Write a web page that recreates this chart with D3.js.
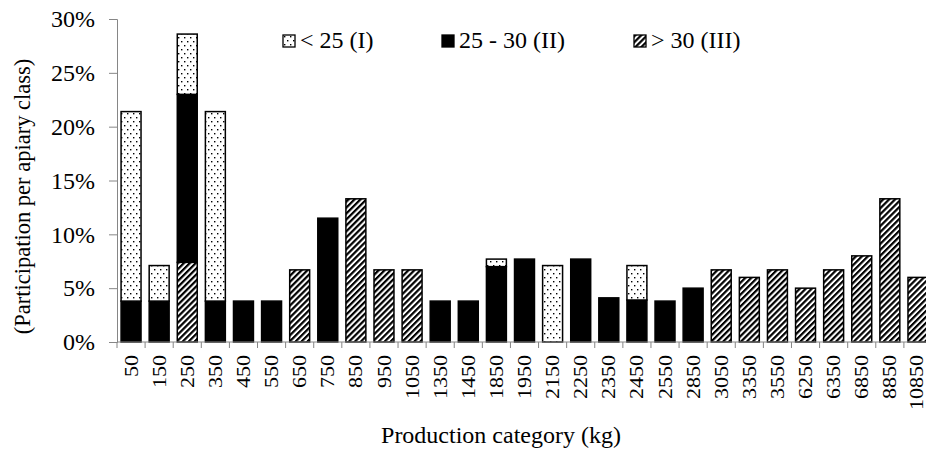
<!DOCTYPE html>
<html>
<head>
<meta charset="utf-8">
<script src="https://cdn.jsdelivr.net/npm/d3@7"></script>
<style>
  body { margin: 0; background: #fff; }
  .ytick text { font-family: "Liberation Serif", serif; font-size: 24px; fill: #000; }
</style>
</head>
<body>
<div id="vis"></div>
<script>
// production categories (kg)
const categories = ['50','150','250','350','450','550','650','750','850','950','1050','1350','1450','1850','1950',
  '2150','2250','2350','2450','2550','2850','3050','3350','3550','6250','6350','6850','8850','10850']

// participation per apiary class, in %
const classI   = [17.6, 3.3, 5.6, 17.6, 0, 0, 0, 0, 0, 0, 0, 0, 0, 0.7, 0, 7.1, 0, 0, 3.2, 0, 0, 0, 0, 0, 0, 0, 0, 0, 0]
const classII  = [3.8, 3.8, 15.6, 3.8, 3.8, 3.8, 0, 11.5, 0, 0, 0, 3.8, 3.8, 7.0, 7.7, 0, 7.7, 4.1, 3.9, 3.8, 5.0, 0, 0, 0, 0, 0, 0, 0, 0]
const classIII = [0, 0, 7.4, 0, 0, 0, 6.7, 0, 13.3, 6.7, 6.7, 0, 0, 0, 0, 0, 0, 0, 0, 0, 0, 6.7, 6.0, 6.7, 5.0, 6.7, 8.0, 13.3, 6.0]

const seriesKeys = ['III', 'II', 'I']   // stacking order, bottom to top
const legendLabels = {I: '< 25 (I)', II: '25 - 30 (II)', III: '> 30 (III)'}
const yTicks = [0, 5, 10, 15, 20, 25, 30]

const width = 926, height = 450
const margin = {left: 117, top: 19, right: -6, bottom: 108}
const serif = 'Liberation Serif'

const svg = d3.select('#vis').append('svg')
  .attr('width', width)
  .attr('height', height)
  .attr('font-family', serif)

// fill patterns
const defs = svg.append('defs')
const dots = defs.append('pattern')
  .attr('id', 'dots').attr('patternUnits', 'userSpaceOnUse')
  .attr('width', 6).attr('height', 8)
dots.append('rect').attr('width', 6).attr('height', 8).attr('fill', '#fff')
dots.append('rect').attr('x', 1).attr('y', 1).attr('width', 1.4).attr('height', 1.4).attr('fill', '#000')
dots.append('rect').attr('x', 4).attr('y', 5).attr('width', 1.4).attr('height', 1.4).attr('fill', '#000')

const hatch = defs.append('pattern')
  .attr('id', 'hatch').attr('patternUnits', 'userSpaceOnUse')
  .attr('width', 4.2).attr('height', 4.2)
  .attr('patternTransform', 'rotate(45)')
hatch.append('rect').attr('width', 4.2).attr('height', 4.2).attr('fill', '#fff')
hatch.append('rect').attr('width', 2.2).attr('height', 4.2).attr('fill', '#000')

const fills = {I: 'url(#dots)', II: '#000', III: 'url(#hatch)'}

const data = categories.map((c, i) => ({cat: c, I: classI[i], II: classII[i], III: classIII[i]}))
const stacked = d3.stack().keys(seriesKeys)(data)

const x = d3.scaleBand(categories, [margin.left, width - margin.right])
  .paddingInner(0.29).paddingOuter(0.145)
const y = d3.scaleLinear([0, 30], [height - margin.bottom, margin.top])

// bars
svg.append('g').selectAll('g')
  .data(stacked)
  .join('g')
    .attr('fill', d => fills[d.key])
  .selectAll('rect')
  .data(d => d.filter(s => s[1] - s[0] > 0))
  .join('rect')
    .attr('x', d => x(d.data.cat))
    .attr('y', d => y(d[1]))
    .attr('width', x.bandwidth())
    .attr('height', d => y(d[0]) - y(d[1]))
    .attr('stroke', '#000')
    .attr('stroke-width', 1.5)

// y axis
const yAxis = d3.axisLeft(y).tickValues(yTicks).tickSize(8).tickPadding(14)
  .tickFormat(d => d + '%')
svg.append('g')
  .attr('class', 'ytick')
  .attr('transform', `translate(${margin.left},0)`)
  .call(yAxis)
  .call(g => g.selectAll('.domain, .tick line').attr('stroke', '#868686'))
  .call(g => g.selectAll('.tick text')
    .style('font-family', '"Liberation Serif", serif')
    .style('font-size', '24px'))

// x axis: line, boundary ticks, rotated labels
const xg = svg.append('g')
xg.append('line')
  .attr('x1', margin.left).attr('x2', width)
  .attr('y1', y(0)).attr('y2', y(0))
  .attr('stroke', '#868686')
xg.selectAll('.bound')
  .data(categories)
  .join('line')
    .attr('class', 'bound')
    .attr('x1', d => x(d) - x.step() * x.paddingInner() / 2)
    .attr('x2', d => x(d) - x.step() * x.paddingInner() / 2)
    .attr('y1', y(0)).attr('y2', y(0) + 6)
    .attr('stroke', '#868686')
xg.selectAll('.lab')
  .data(categories)
  .join('text')
    .attr('class', 'lab')
    .attr('transform', d => `translate(${Math.min(x(d) + x.bandwidth() / 2, width - 10)},${y(0) + 13}) rotate(-90) scale(1,0.88)`)
    .attr('dy', '0.34em')
    .attr('text-anchor', 'end')
    .attr('font-size', 22)
    .text(d => d)

// axis titles
svg.append('text')
  .attr('transform', `translate(22,${(y(0) + y(30)) / 2 + 16}) rotate(-90)`)
  .attr('dy', '0.34em')
  .attr('text-anchor', 'middle')
  .attr('font-size', 22.5)
  .text('(Participation per apiary class)')

svg.append('text')
  .attr('x', 501).attr('y', 443)
  .attr('text-anchor', 'middle')
  .attr('font-size', 24)
  .text('Production category (kg)')

// legend
const legendX = {I: 283, II: 442, III: 634}
const legend = svg.append('g').selectAll('g')
  .data(['I', 'II', 'III'])
  .join('g')
    .attr('transform', d => `translate(${legendX[d]},35)`)
legend.append('rect')
  .attr('width', 12).attr('height', 12)
  .attr('fill', d => fills[d])
  .attr('stroke', '#000').attr('stroke-width', 1.3)
legend.append('text')
  .attr('x', 17).attr('y', 13)
  .attr('font-size', 24)
  .text(d => legendLabels[d])
</script>
</body>
</html>
